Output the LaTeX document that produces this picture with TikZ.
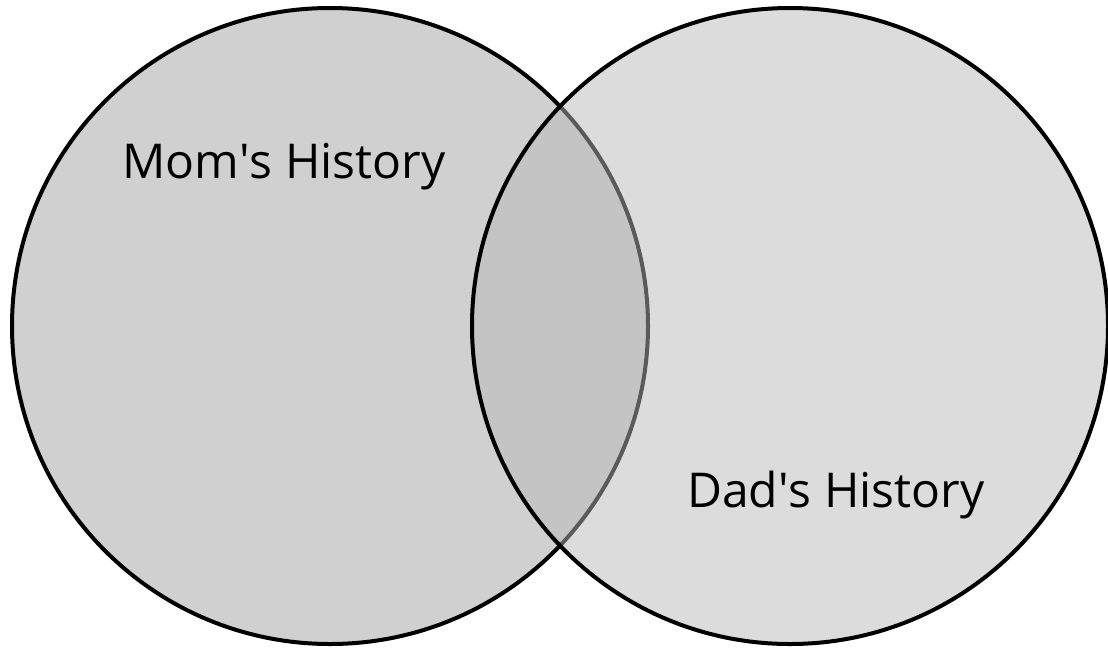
\documentclass[tikz,border=0pt]{standalone}
\usepackage{fontspec}
\setmainfont{Open Sans}
\usepackage{tikz}
\usepackage{xcolor}
\definecolor{momgray}{RGB}{208,208,208}
\definecolor{dadgray}{RGB}{184,184,184}

\begin{document}
\begin{tikzpicture}[x=1pt, y=-1pt,
    histcircle/.style={circle, draw=black, line width=4pt, minimum size=636pt, inner sep=0pt},
    histlabel/.style={anchor=base west, inner sep=0pt, font=\fontsize{48}{58}\selectfont}]
    \useasboundingbox (0,0) rectangle (1108,649);

    % mom's side
    \node[histcircle, fill=momgray] (mom) at (330,326) {};
    % dad's side, see-through fill over mom's
    \node[histcircle, fill=dadgray, fill opacity=0.49] (dad) at (790,326) {};

    \node[histlabel] (momlabel) at (122,178) {Mom\textquotesingle s History};
    \node[histlabel] (dadlabel) at (687,507) {Dad\textquotesingle s History};
\end{tikzpicture}
\end{document}
